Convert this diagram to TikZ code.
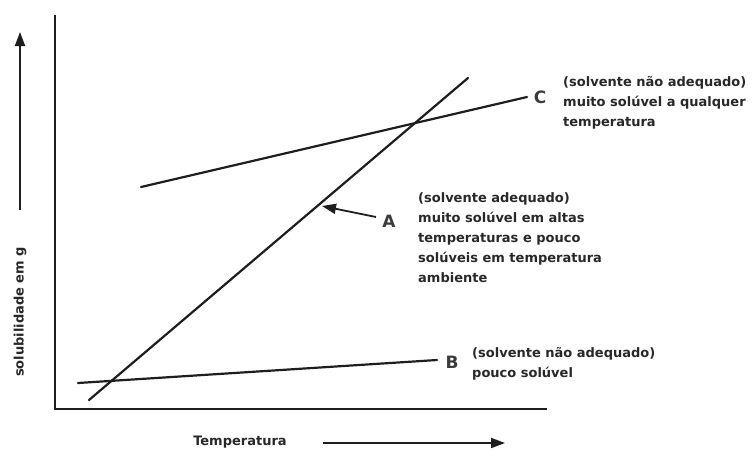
\documentclass[tikz,border=0pt]{standalone}
\usepackage{fontspec}
\setmainfont{DejaVu Sans}
\usetikzlibrary{arrows.meta}
\definecolor{ink}{RGB}{30,30,30}
\definecolor{txt}{RGB}{40,40,40}
\definecolor{lbl}{RGB}{60,60,60}
\tikzset{
  axisline/.style={draw=ink, line width=2.2pt},
  curve/.style={draw=ink, line width=2.2pt, line cap=round},
  pointer/.style={draw=ink, line width=1.8pt, -{Triangle[length=14pt,width=10pt]}},
  note/.style={font=\fontsize{13}{20}\bfseries\selectfont, text=txt, align=left, anchor=north west, inner sep=0pt},
  letter/.style={font=\fontsize{17}{17}\bfseries\selectfont, text=lbl, inner sep=0pt},
  axislabel/.style={font=\fontsize{13}{14}\bfseries\selectfont, text=txt, inner sep=0pt}
}
\begin{document}
\begin{tikzpicture}[x=1pt,y=-1pt]
\useasboundingbox (0,0) rectangle (754,450);
% axes
\coordinate (ytop) at (55,15);
\coordinate (orig) at (55,409);
\coordinate (xend) at (547,409);
\draw[axisline] (ytop) -- (orig) -- (xend);
% axis direction arrows
\coordinate (yarrS) at (20,210);
\coordinate (yarrE) at (20,32);
\draw[pointer] (yarrS) -- (yarrE);
\coordinate (xarrS) at (323,443);
\coordinate (xarrE) at (505,443);
\draw[pointer] (xarrS) -- (xarrE);
\node[axislabel, rotate=90] (ylab) at (20,312) {solubilidade em g};
\node[axislabel] (xlab) at (240,442) {Temperatura};
% line A
\coordinate (A1) at (89,400);
\coordinate (A2) at (468,78);
\draw[curve] (A1) -- (A2);
% line C
\coordinate (C1) at (141,187);
\coordinate (C2) at (527,97);
\draw[curve] (C1) -- (C2);
% line B
\coordinate (B1) at (78,383);
\coordinate (B2) at (437,360);
\draw[curve] (B1) -- (B2);
% letters
\node[letter] (labC) at (540,97) {C};
\node[letter] (labB) at (452,362) {B};
\node[letter] (labA) at (389,221) {A};
\coordinate (Atip) at (322,206);
\coordinate (Atail) at (376,217);
\draw[pointer] (Atail) -- (Atip);
% notes
\node[note] (noteC) at (563,76) {\fontsize{13}{18.5}\selectfont(solvente não adequado)\\muito solúvel a qualquer\\temperatura};
\node[note] (noteA) at (418,192) {(solvente adequado)\\muito solúvel em altas\\temperaturas e pouco\\solúveis em temperatura\\ambiente};
\node[note] (noteB) at (472,347) {(solvente não adequado)\\pouco solúvel};
\end{tikzpicture}
\end{document}
